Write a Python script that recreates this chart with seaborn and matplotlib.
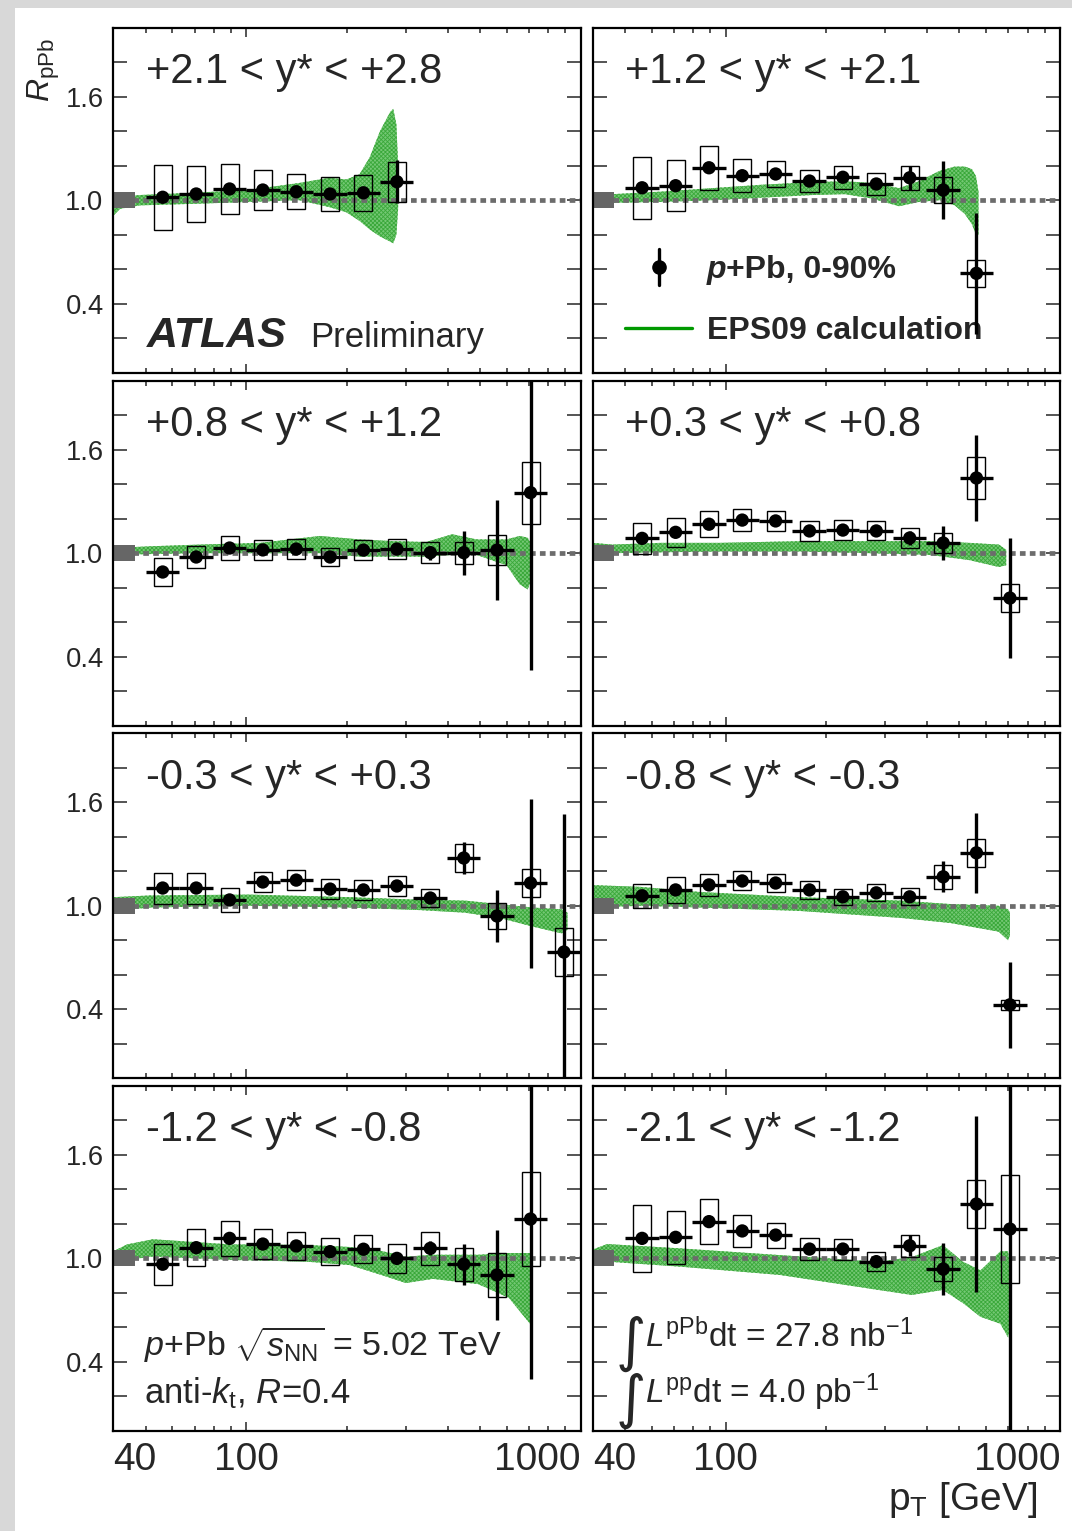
import numpy as np
import matplotlib
matplotlib.use('Agg')
import matplotlib.pyplot as plt
from matplotlib.patches import Rectangle
from matplotlib.ticker import FixedLocator, NullFormatter
import seaborn as sns

# ---------------- data ----------------
pt_centers = [56.2, 70.8, 89.1, 112, 141, 178, 224, 282, 355, 447, 562, 708, 891]
pt_edges = [50.1, 63.1, 79.4, 100, 126, 158, 200, 251, 316, 398, 501, 631, 794, 1000]

labels = ['+2.1 < y* < +2.8', '+1.2 < y* < +2.1',
          '+0.8 < y* < +1.2', '+0.3 < y* < +0.8',
          '-0.3 < y* < +0.3', '-0.8 < y* < -0.3',
          '-1.2 < y* < -0.8', '-2.1 < y* < -1.2']

# panel 1: +2.1 < y* < +2.8
p1_R = [1.017, 1.036, 1.065, 1.059, 1.049, 1.036, 1.043, 1.107]
p1_sys = [0.187, 0.165, 0.143, 0.114, 0.100, 0.098, 0.103, 0.117]
p1_stat = [0.01, 0.01, 0.02, 0.015, 0.015, 0.02, 0.03, 0.125]
p1_eps_pt = [40, 41.9, 48, 72.5, 102, 144, 177, 199, 218, 234, 251, 269, 275, 281, 284.4]
p1_eps_lo = [0.91, 0.95, 0.97, 0.98, 0.99, 1.00, 0.96, 0.93, 0.88, 0.83, 0.79, 0.76, 0.75, 0.80, 0.95]
p1_eps_hi = [1.01, 1.02, 1.03, 1.045, 1.06, 1.10, 1.13, 1.12, 1.15, 1.25, 1.40, 1.51, 1.53, 1.44, 1.20]

# panel 2: +1.2 < y* < +2.1
p2_R = [1.072, 1.084, 1.188, 1.142, 1.152, 1.111, 1.133, 1.094, 1.130, 1.059, 0.576]
p2_sys = [0.18, 0.148, 0.128, 0.095, 0.078, 0.065, 0.066, 0.063, 0.07, 0.075, 0.08]
p2_stat = [0.01, 0.01, 0.01, 0.01, 0.01, 0.015, 0.02, 0.03, 0.07, 0.17, 0.35]
p2_eps_pt = [40, 45.8, 64.2, 91.2, 129, 182, 227, 273, 330, 378, 436, 484, 519, 545, 560, 570]
p2_eps_lo = [0.99, 0.985, 0.99, 1.0, 1.015, 1.03, 1.035, 1.01, 0.965, 0.99, 1.0, 0.97, 0.92, 0.86, 0.80, 0.80]
p2_eps_hi = [1.03, 1.035, 1.05, 1.07, 1.09, 1.105, 1.11, 1.10, 1.07, 1.11, 1.17, 1.195, 1.195, 1.18, 1.14, 1.05]

# panel 3: +0.8 < y* < +1.2
p3_R = [0.891, 0.978, 1.030, 1.019, 1.024, 0.978, 1.018, 1.024, 1.003, 1.003, 1.018, 1.351]
p3_sys = [0.08, 0.065, 0.07, 0.06, 0.06, 0.055, 0.06, 0.06, 0.06, 0.064, 0.085, 0.18]
p3_stat = [0.01, 0.01, 0.01, 0.01, 0.01, 0.01, 0.015, 0.02, 0.04, 0.127, 0.29, 1.03]
p3_eps_pt = [40, 51.5, 72.5, 110, 166, 218, 274, 345, 413, 488, 600, 657, 694, 713]
p3_eps_lo = [0.99, 0.995, 1.0, 1.0, 1.0, 0.98, 0.98, 0.98, 0.99, 0.99, 0.93, 0.82, 0.79, 0.85]
p3_eps_hi = [1.03, 1.04, 1.05, 1.06, 1.10, 1.08, 1.07, 1.065, 1.11, 1.08, 1.08, 1.10, 1.09, 1.05]

# panel 4: +0.3 < y* < +0.8
p4_R = [1.086, 1.121, 1.168, 1.192, 1.187, 1.129, 1.134, 1.129, 1.088, 1.059, 1.436, 0.740]
p4_sys = [0.09, 0.085, 0.075, 0.065, 0.06, 0.06, 0.06, 0.055, 0.06, 0.06, 0.12, 0.08]
p4_stat = [0.01, 0.01, 0.01, 0.01, 0.01, 0.01, 0.015, 0.02, 0.04, 0.10, 0.25, 0.35]
p4_eps_pt = [40, 45.8, 63.9, 96, 167, 270, 408, 535, 656, 690]
p4_eps_lo = [0.99, 1.0, 1.005, 1.01, 1.01, 1.0, 0.99, 0.96, 0.92, 0.93]
p4_eps_hi = [1.06, 1.05, 1.06, 1.06, 1.07, 1.07, 1.07, 1.06, 1.05, 1.02]

# panel 5: -0.3 < y* < +0.3
p5_R = [1.103, 1.103, 1.034, 1.138, 1.149, 1.097, 1.092, 1.115, 1.045, 1.277, 0.941, 1.132, 0.732]
p5_sys = [0.09, 0.09, 0.07, 0.06, 0.06, 0.06, 0.06, 0.06, 0.05, 0.08, 0.075, 0.08, 0.14]
p5_stat = [0.01, 0.01, 0.01, 0.01, 0.01, 0.01, 0.01, 0.02, 0.03, 0.09, 0.15, 0.49, 0.80]
p5_eps_pt = [40, 51.5, 102, 204, 331, 451, 571, 717, 877, 913]
p5_eps_lo = [0.97, 0.99, 1.0, 0.99, 0.975, 0.96, 0.93, 0.88, 0.84, 0.86]
p5_eps_hi = [1.05, 1.06, 1.065, 1.05, 1.035, 1.03, 1.01, 0.99, 0.98, 0.96]

# panel 6: -0.8 < y* < -0.3
p6_R = [1.058, 1.092, 1.121, 1.144, 1.132, 1.092, 1.052, 1.075, 1.052, 1.168, 1.307, 0.426]
p6_sys = [0.07, 0.075, 0.065, 0.055, 0.05, 0.05, 0.045, 0.05, 0.05, 0.07, 0.08, 0.03]
p6_stat = [0.01, 0.01, 0.01, 0.01, 0.01, 0.01, 0.01, 0.02, 0.03, 0.09, 0.23, 0.25]
p6_eps_pt = [40, 55.4, 84, 167, 333, 471, 655, 699, 708]
p6_eps_lo = [0.99, 1.0, 0.99, 0.97, 0.93, 0.90, 0.85, 0.80, 0.83]
p6_eps_hi = [1.12, 1.11, 1.08, 1.05, 1.03, 1.01, 1.0, 0.98, 0.96]

# panel 7: -1.2 < y* < -0.8
p7_R = [0.965, 1.061, 1.115, 1.082, 1.071, 1.038, 1.052, 0.999, 1.057, 0.965, 0.903, 1.227]
p7_sys = [0.12, 0.108, 0.10, 0.087, 0.08, 0.077, 0.082, 0.082, 0.094, 0.097, 0.13, 0.273]
p7_stat = [0.01, 0.01, 0.01, 0.01, 0.01, 0.01, 0.01, 0.015, 0.04, 0.12, 0.26, 0.93]
p7_eps_pt = [40, 44, 52.6, 89.4, 151, 204, 256, 300, 361, 493, 610, 705, 715]
p7_eps_lo = [0.99, 0.99, 1.01, 0.99, 0.98, 0.96, 0.90, 0.856, 0.88, 0.85, 0.77, 0.62, 0.80]
p7_eps_hi = [1.04, 1.08, 1.11, 1.08, 1.077, 1.065, 1.04, 1.009, 1.02, 1.02, 1.03, 1.03, 0.95]

# panel 8: -2.1 < y* < -1.2
p8_R = [1.115, 1.121, 1.212, 1.158, 1.134, 1.053, 1.053, 0.980, 1.072, 0.937, 1.314, 1.169]
p8_sys = [0.193, 0.155, 0.13, 0.094, 0.072, 0.064, 0.061, 0.055, 0.063, 0.07, 0.138, 0.314]
p8_stat = [0.01, 0.01, 0.01, 0.01, 0.01, 0.01, 0.01, 0.015, 0.06, 0.15, 0.51, 1.2]
p8_eps_pt = [40, 44.2, 73, 145, 286, 360, 446, 512, 578, 663, 699, 709]
p8_eps_lo = [0.97, 0.98, 0.951, 0.903, 0.816, 0.787, 0.816, 0.74, 0.66, 0.62, 0.54, 0.60]
p8_eps_hi = [1.05, 1.082, 1.057, 1.018, 0.98, 1.006, 1.076, 0.98, 0.93, 1.04, 1.04, 0.95]

panels = [
    (p1_R, p1_sys, p1_stat, p1_eps_pt, p1_eps_lo, p1_eps_hi),
    (p2_R, p2_sys, p2_stat, p2_eps_pt, p2_eps_lo, p2_eps_hi),
    (p3_R, p3_sys, p3_stat, p3_eps_pt, p3_eps_lo, p3_eps_hi),
    (p4_R, p4_sys, p4_stat, p4_eps_pt, p4_eps_lo, p4_eps_hi),
    (p5_R, p5_sys, p5_stat, p5_eps_pt, p5_eps_lo, p5_eps_hi),
    (p6_R, p6_sys, p6_stat, p6_eps_pt, p6_eps_lo, p6_eps_hi),
    (p7_R, p7_sys, p7_stat, p7_eps_pt, p7_eps_lo, p7_eps_hi),
    (p8_R, p8_sys, p8_stat, p8_eps_pt, p8_eps_lo, p8_eps_hi),
]

# ---------------- style ----------------
sns.set_theme(style='ticks')
plt.rcParams['font.family'] = ['Liberation Sans', 'DejaVu Sans']
plt.rcParams['mathtext.fontset'] = 'custom'
plt.rcParams['mathtext.rm'] = 'Liberation Sans'
plt.rcParams['mathtext.it'] = 'Liberation Sans:italic'
plt.rcParams['mathtext.bf'] = 'Liberation Sans:bold'
plt.rcParams['hatch.linewidth'] = 0.6

W, H = 1072, 1531
fig = plt.figure(figsize=(W / 100, H / 100), dpi=100)
fig.patch.set_facecolor('#d8d8d8')
fig.add_artist(Rectangle((15 / W, 0), 1, 1 - 8 / H, transform=fig.transFigure,
                         facecolor='white', edgecolor='none', zorder=-10))

band_color = '#74c874'
col_x = [113.3, 592.7]
row_top = [27.7, 380.7, 733.3, 1085.7]
aw, ah = 467.4, 345.0
box_f = 10 ** 0.027

axes = []
for i, (R, sysv, stat, ept, elo, ehi) in enumerate(panels):
    r, c = divmod(i, 2)
    ax = fig.add_axes([col_x[c] / W, 1 - (row_top[r] + ah) / H, aw / W, ah / H])
    axes.append(ax)
    ax.set_xscale('log')
    ax.set_xlim(40, 1000)
    ax.set_ylim(0.0, 2.0)

    n = len(R)
    x = np.array(pt_centers[:n])
    lo_e = x - np.array(pt_edges[:n])
    hi_e = np.array(pt_edges[1:n + 1]) - x

    ax.fill_between(ept, elo, ehi, facecolor=band_color, edgecolor='#3aa83a',
                    hatch='xxxxxxxx', lw=0, zorder=1)
    ax.axhline(1.0, color='#6c6c6c', lw=3.4, linestyle=(0, (1.2, 0.9)),
               dash_capstyle='butt', zorder=2)
    ax.add_patch(Rectangle((40, 0.953), 6.3, 0.094, facecolor='#666666',
                           edgecolor='none', zorder=2.5))
    for xi, ri, si in zip(x, R, sysv):
        ax.add_patch(Rectangle((xi / box_f, ri - si), xi * box_f - xi / box_f, 2 * si,
                               fill=False, edgecolor='black', lw=1.0, zorder=3))
    ax.errorbar(x, R, yerr=stat, xerr=[lo_e, hi_e], fmt='none', ecolor='black',
                elinewidth=2.4, capsize=0, zorder=4)
    sns.scatterplot(x=x, y=R, ax=ax, color='black', s=92, edgecolor='none',
                    zorder=5, legend=False)

    # ticks
    ax.set_yticks(np.round(np.arange(0.2, 1.81, 0.2), 1))
    if c == 0:
        ax.set_yticklabels(['' if round(v, 1) not in (0.4, 1.0, 1.6) else f'{v:.1f}'
                            for v in np.arange(0.2, 1.81, 0.2)])
    else:
        ax.set_yticklabels([])
    ax.xaxis.set_minor_locator(FixedLocator([50, 60, 70, 80, 90, 200, 300, 400, 500,
                                             600, 700, 800, 900]))
    ax.xaxis.set_minor_formatter(NullFormatter())
    if r == 3:
        ax.set_xticks([40, 100, 1000])
        ax.set_xticklabels(['40', '100', '1000'])
        tl = ax.get_xticklabels()
        tl[0].set_ha('left')
        tl[-1].set_ha('right')
    else:
        ax.set_xticks([100])
        ax.set_xticklabels([])
    ax.tick_params(axis='y', which='major', direction='in', length=9.8, width=1.1,
                   left=True, right=True, labelsize=19.7, pad=7)
    ax.tick_params(axis='x', which='major', direction='in', length=6.5, width=1.1,
                   top=True, bottom=True, labelsize=28, pad=8)
    ax.tick_params(axis='x', which='minor', direction='in', length=3.8, width=1.1,
                   top=True, bottom=True)
    for s in ax.spines.values():
        s.set_linewidth(1.6)
        s.set_color('black')
    ax.set_xlabel('')
    ax.set_ylabel('')

    ax.text(0.07, 0.84, labels[i], transform=ax.transAxes, fontsize=30,
            ha='left', va='baseline')

# ATLAS label
a1 = axes[0]
a1.text(0.072, 0.074, 'ATLAS', transform=a1.transAxes, fontsize=31,
        fontweight='bold', fontstyle='italic', ha='left', va='baseline')
a1.text(0.421, 0.074, 'Preliminary', transform=a1.transAxes, fontsize=25,
        ha='left', va='baseline')

# legend in panel 2
a2 = axes[1]
a2.plot([0.1425], [0.3072], 'o', color='black', ms=9.5, transform=a2.transAxes,
        clip_on=False, zorder=6)
a2.plot([0.1425, 0.1425], [0.2550, 0.3594], color='black', lw=2.4,
        transform=a2.transAxes, zorder=6)
a2.plot([0.0694, 0.2121], [0.1287, 0.1287], color='#009900', lw=2.4,
        transform=a2.transAxes, zorder=6)
tp = a2.text(0.2439, 0.274, 'p', transform=a2.transAxes, fontsize=23,
             fontweight='bold', fontstyle='italic', ha='left', va='baseline')
a2.annotate('+Pb, 0-90%', xy=(1, 0), xycoords=tp, fontsize=23,
            fontweight='bold', ha='left', va='bottom')
a2.text(0.2439, 0.097, 'EPS09 calculation', transform=a2.transAxes,
        fontsize=23, fontweight='bold', ha='left', va='baseline')

# collision system text in panel 7
a7 = axes[6]
a7.text(0.065, 0.2165, r'$p$+Pb $\sqrt{s_{\mathrm{NN}}}$ = 5.02 TeV',
        transform=a7.transAxes, fontsize=24.5, ha='left', va='baseline')
a7.text(0.065, 0.0794, r'anti-$k_{\mathrm{t}}$, $R$=0.4',
        transform=a7.transAxes, fontsize=25, ha='left', va='baseline')

# luminosity text in panel 8
a8 = axes[7]
for yb, txt in [(0.243, r'$L^{\mathrm{pPb}}$dt = 27.8 nb$^{-1}$'),
                (0.079, r'$L^{\mathrm{pp}}$dt = 4.0 pb$^{-1}$')]:
    a8.text(0.050, yb - 0.038, '\u222b', transform=a8.transAxes, fontsize=42,
            family='DejaVu Sans', ha='left', va='baseline')
    a8.text(0.1117, yb, txt, transform=a8.transAxes, fontsize=24,
            ha='left', va='baseline')

# axis titles
fig.text(50 / W, 1 - 38 / H, r'$R_{\mathrm{pPb}}$', rotation=90,
         rotation_mode='anchor', ha='right', va='baseline', fontsize=23)
fig.text(1037 / W, 1 - 1510 / H, r'p$_{\mathrm{T}}$ [GeV]', ha='right',
         va='baseline', fontsize=28)

fig.savefig('out.png', dpi=100)
